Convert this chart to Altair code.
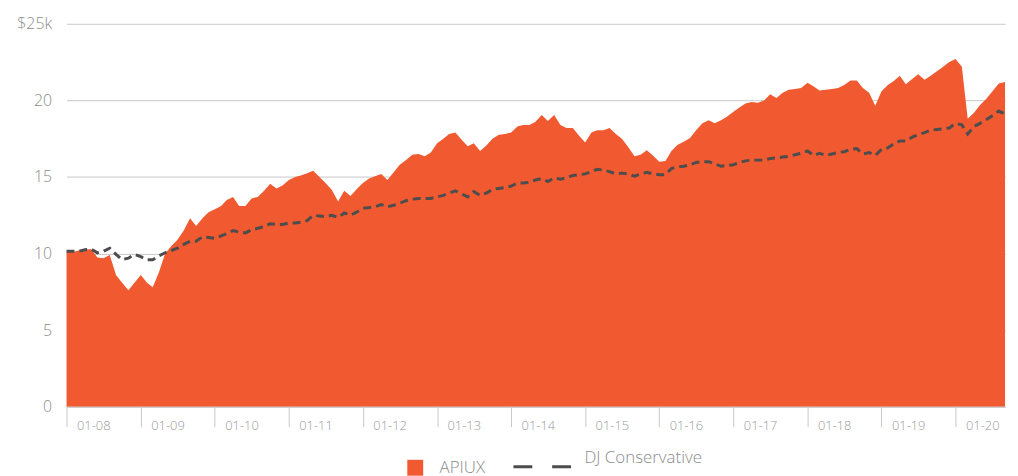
import altair as alt
import pandas as pd

# Monthly observation dates (Jan 2008 .. Sep 2020)
months = [d.strftime("%Y-%m-%dT00:00:00") for d in pd.date_range("2008-01-01", "2020-09-01", freq="MS")]

apiux = [
    10.1, 10.1, 10.2, 10.25, 10.3, 9.75, 9.7, 9.9, 8.6, 8.1, 7.6, 8.1,
    8.6, 8.1, 7.8, 8.8, 10.0, 10.5, 10.9, 11.5, 12.3, 11.8, 12.3, 12.7,
    12.9, 13.1, 13.5, 13.7, 13.1, 13.1, 13.6, 13.7, 14.1, 14.55, 14.25, 14.45,
    14.8, 15.0, 15.1, 15.25, 15.4, 15.0, 14.6, 14.15, 13.4, 14.1, 13.75, 14.2,
    14.6, 14.9, 15.05, 15.2, 14.8, 15.3, 15.8, 16.1, 16.45, 16.5, 16.35, 16.6,
    17.2, 17.5, 17.8, 17.9, 17.45, 17.0, 17.2, 16.7, 17.05, 17.5, 17.75, 17.8,
    17.9, 18.3, 18.4, 18.4, 18.6, 19.05, 18.65, 19.05, 18.4, 18.2, 18.2, 17.7,
    17.25, 17.9, 18.05, 18.05, 18.2, 17.8, 17.5, 16.95, 16.35, 16.45, 16.75, 16.4,
    16.0, 16.05, 16.7, 17.1, 17.3, 17.55, 18.05, 18.5, 18.7, 18.5, 18.7, 18.95,
    19.25, 19.55, 19.8, 19.9, 19.85, 20.0, 20.4, 20.15, 20.5, 20.7, 20.75, 20.8,
    21.15, 20.9, 20.65, 20.7, 20.75, 20.8, 21.0, 21.3, 21.3, 20.8, 20.5, 19.65,
    20.6, 21.0, 21.25, 21.6, 21.05, 21.4, 21.7, 21.35, 21.6, 21.9, 22.2, 22.5,
    22.7, 22.2, 18.8, 19.2, 19.7, 20.1, 20.6, 21.1, 21.2,
]

dj_conservative = [
    10.15, 10.15, 10.15, 10.25, 10.3, 10.05, 10.15, 10.35, 9.95, 9.6, 9.7, 9.95,
    9.8, 9.6, 9.6, 9.85, 10.05, 10.2, 10.35, 10.6, 10.8, 10.8, 11.1, 11.05,
    11.0, 11.15, 11.3, 11.5, 11.4, 11.35, 11.55, 11.65, 11.75, 11.95, 11.9, 11.9,
    12.0, 12.0, 12.05, 12.15, 12.5, 12.45, 12.4, 12.5, 12.35, 12.65, 12.5, 12.7,
    12.95, 13.0, 13.05, 13.2, 13.05, 13.15, 13.3, 13.45, 13.55, 13.6, 13.6, 13.6,
    13.7, 13.8, 13.95, 14.1, 13.9, 13.7, 14.05, 13.8, 13.95, 14.2, 14.25, 14.3,
    14.4, 14.6, 14.6, 14.65, 14.8, 14.9, 14.7, 14.95, 14.85, 14.95, 15.1, 15.15,
    15.2, 15.35, 15.5, 15.45, 15.35, 15.2, 15.25, 15.2, 15.05, 15.2, 15.3, 15.2,
    15.15, 15.15, 15.55, 15.65, 15.7, 15.8, 15.95, 16.0, 16.0, 15.85, 15.7, 15.75,
    15.8, 15.95, 16.05, 16.1, 16.1, 16.1, 16.2, 16.25, 16.3, 16.35, 16.45, 16.55,
    16.7, 16.4, 16.55, 16.4, 16.5, 16.6, 16.65, 16.8, 16.85, 16.5, 16.6, 16.4,
    16.8, 16.9, 17.15, 17.35, 17.35, 17.6, 17.75, 17.9, 18.05, 18.1, 18.15, 18.2,
    18.5, 18.4, 17.8, 18.3, 18.5, 18.75, 19.0, 19.3, 19.1,
]

series_names = ["APIUX", "DJ Conservative"]
y_ticks = [0, 5, 10, 15, 20, 25]
x_tick_years = list(range(2008, 2021))

FONT = "Open Sans"
ORANGE = "#f15a30"
DARK = "#4d4d4d"
GRAY_TXT = "#8c8c8c"

df_area = pd.DataFrame({"date": months, "value": apiux, "series": series_names[0]})
df_line = pd.DataFrame({"date": months, "value": dj_conservative, "series": series_names[1]})

x_scale = alt.Scale(domain=[alt.DateTime(year=2008, month=1, date=1),
                            alt.DateTime(year=2020, month=9, date=1)])
y_scale = alt.Scale(domain=[0, 25], nice=False)

x_axis = alt.Axis(
    values=[alt.DateTime(year=y, month=1, date=1) for y in x_tick_years],
    format="%m-%y", grid=False, domain=True, domainColor="#c8c8c8",
    ticks=True, tickSize=20, tickColor="#c8c8c8", tickWidth=1,
    labelAlign="left", labelBaseline="top", labelOffset=10, labelPadding=-7,
    labelFont=FONT, labelFontSize=13, labelColor="#9a9a9a", labelFontWeight=300,
    labelFlush=False, labelOverlap=False,
    title=None, zindex=1,
)
y_axis = alt.Axis(
    values=y_ticks, grid=True, gridColor="#c8c8c8", gridWidth=1,
    domain=False, ticks=False, labelPadding=15,
    labelExpr="datum.value == 25 ? '$25k' : datum.label",
    labelFont=FONT, labelFontSize=16, labelColor=GRAY_TXT, labelFontWeight=300,
    title=None,
)

area = alt.Chart(df_area).mark_area(opacity=1, interpolate="linear").encode(
    x=alt.X("date:T", scale=x_scale, axis=x_axis),
    y=alt.Y("value:Q", scale=y_scale, axis=y_axis),
    fill=alt.Fill(
        "series:N",
        scale=alt.Scale(domain=[series_names[0]], range=[ORANGE]),
        legend=alt.Legend(
            orient="none", legendX=343, legendY=439, direction="horizontal",
            title=None, symbolType="square", symbolSize=256, symbolStrokeWidth=0,
            symbolOpacity=1, labelOffset=16, labelFont=FONT, labelFontSize=17,
            labelColor=GRAY_TXT, labelFontWeight=300, padding=0,
        ),
    ),
)

line = alt.Chart(df_line).mark_line(strokeWidth=3).encode(
    x=alt.X("date:T", scale=x_scale),
    y=alt.Y("value:Q", scale=y_scale),
    stroke=alt.Stroke(
        "series:N",
        scale=alt.Scale(domain=[series_names[1]], range=[DARK]),
        legend=alt.Legend(
            orient="none", legendX=449, legendY=416, direction="horizontal",
            title=None, symbolType="stroke", symbolSize=3364, symbolStrokeWidth=3,
            symbolDash=[19, 20], labelOffset=12, labelBaseline="bottom",
            labelFont=FONT, labelFontSize=17, labelColor=GRAY_TXT, labelFontWeight=300,
            padding=0,
        ),
    ),
    strokeDash=alt.StrokeDash(
        "series:N",
        scale=alt.Scale(domain=[series_names[1]], range=[[8, 5]]),
        legend=None,
    ),
)

chart = (area + line).properties(
    width=946, height=386,
    autosize=alt.AutoSizeParams(type="none"),
    padding={"left": 59, "top": 14, "right": 5, "bottom": 80},
).configure_view(stroke=None).resolve_legend(fill="independent", stroke="independent")

chart.save("out.html", embed_options={"renderer": "svg", "actions": False})
